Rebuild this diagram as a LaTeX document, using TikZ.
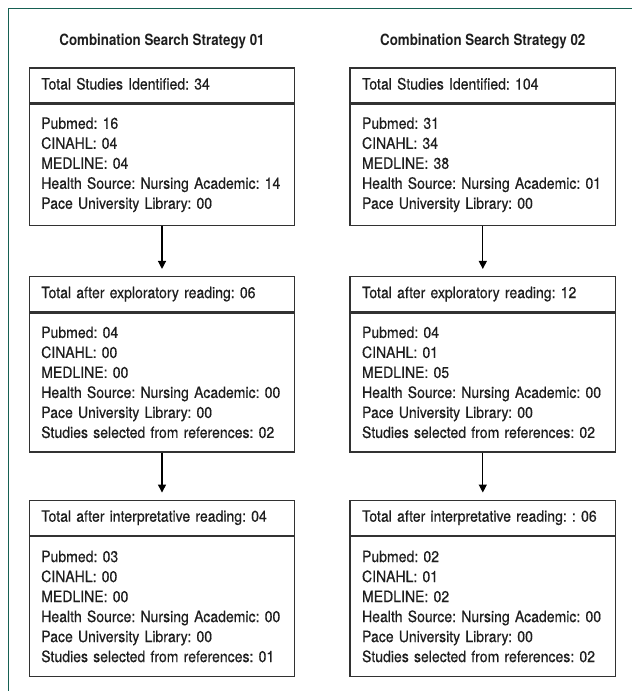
\documentclass[tikz,border=0pt]{standalone}
\usepackage{fontspec}
\setmainfont{TeX Gyre Heros}[FakeStretch=0.9, FakeBold=0.5]
\newfontfamily\titlefont{TeX Gyre Heros}[FakeStretch=0.86]
\usetikzlibrary{positioning, arrows.meta}
\frenchspacing
\definecolor{framegreen}{RGB}{22,96,82}
\definecolor{boxgray}{RGB}{50,50,50}
\definecolor{inkgray}{RGB}{30,30,30}
\tikzset{
  box/.style={draw=boxgray, line width=1.3pt, text=inkgray, text width=241.5pt,
    inner xsep=12pt, align=left, font=\frenchspacing\fontsize{15.6}{20}\selectfont},
  head/.style={box, minimum height=35pt, text height=11pt, text depth=3pt},
  body/.style={box, below=0pt of #1},
  title/.style={text=inkgray, anchor=base, font=\titlefont\bfseries\fontsize{15.5}{18}\selectfont},
  arr/.style={draw=black, line width=1.3pt, -{Triangle[width=8pt,length=8pt]}, shorten >=7pt}
}

\begin{document}
\begin{tikzpicture}[x=1pt, y=1pt]
    \useasboundingbox (0,0) rectangle (632,-691);
    \draw[framegreen, line width=1.4pt] (8.5,-691) -- (8.5,-8.5) -- (632,-8.5);

    % strategy 01
    \node[head] (T1) at (162,-85.5) {Total Studies Identified: 34};
    \node[body=T1, minimum height=121pt] (B1) {Pubmed: 16\\ CINAHL: 04\\ MEDLINE: 04\\
      Health Source: Nursing Academic: 14\\ Pace University Library: 00};
    \node[head] (E1) [below=50pt of B1] {Total after exploratory reading: 06};
    \node[body=E1, minimum height=139pt] (EB1) {Pubmed: 04\\ CINAHL: 00\\ MEDLINE: 00\\
      Health Source: Nursing Academic: 00\\ Pace University Library: 00\\
      Studies selected from references: 02};
    \node[head] (I1) [below=47pt of EB1] {Total after interpretative reading: 04};
    \node[body=I1, minimum height=140pt] (IB1) {Pubmed: 03\\ CINAHL: 00\\ MEDLINE: 00\\
      Health Source: Nursing Academic: 00\\ Pace University Library: 00\\
      Studies selected from references: 01};

    % strategy 02
    \node[head] (T2) [right=54pt of T1] {Total Studies Identified: 104};
    \node[body=T2, minimum height=121pt] (B2) {Pubmed: 31\\ CINAHL: 34\\ MEDLINE: 38\\
      Health Source: Nursing Academic: 01\\ Pace University Library: 00};
    \node[head] (E2) [below=50pt of B2] {Total after exploratory reading: 12};
    \node[body=E2, minimum height=139pt] (EB2) {Pubmed: 04\\ CINAHL: 01\\ MEDLINE: 05\\
      Health Source: Nursing Academic: 00\\ Pace University Library: 00\\
      Studies selected from references: 02};
    \node[head] (I2) [below=47pt of EB2] {Total after interpretative reading: : 06};
    \node[body=I2, minimum height=140pt] (IB2) {Pubmed: 02\\ CINAHL: 01\\ MEDLINE: 02\\
      Health Source: Nursing Academic: 00\\ Pace University Library: 00\\
      Studies selected from references: 02};

    \node[title] (S1) at (T1.north |- 0,-45) {Combination Search Strategy 01};
    \node[title] (S2) at (T2.north |- 0,-45) {Combination Search Strategy 02};

    \path[arr]
    (B1) edge (E1)
    (EB1) edge (I1)
    (B2) edge (E2)
    (EB2) edge (I2)
    ;
\end{tikzpicture}
\end{document}
